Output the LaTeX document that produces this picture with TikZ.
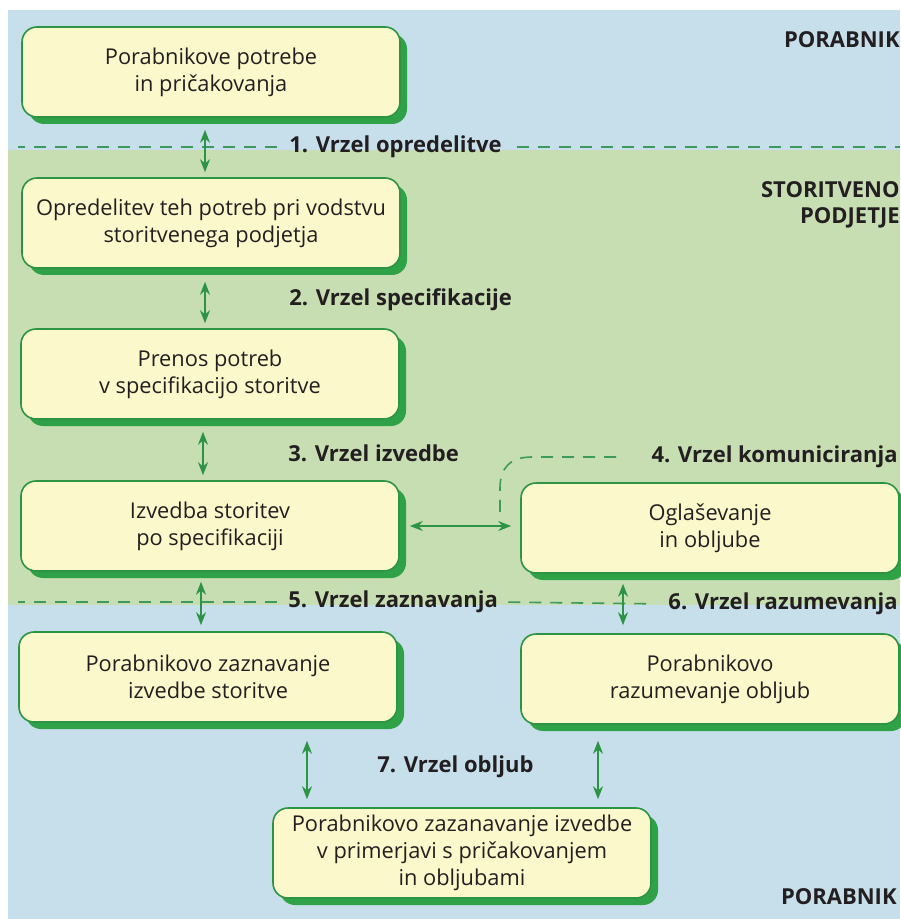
\documentclass[tikz,border=0pt]{standalone}
\usepackage{fontspec}
\setmainfont{Open Sans}
\usetikzlibrary{arrows.meta, shadows}
\definecolor{modra}{HTML}{C6DFEB}
\definecolor{zelena}{HTML}{C7DEB3}
\definecolor{rumena}{HTML}{FBF8CB}
\definecolor{rob}{HTML}{2E9445}
\definecolor{senca}{HTML}{2FA146}
\definecolor{crta}{HTML}{3C9A5C}
\definecolor{crnilo}{HTML}{231F20}
\tikzset{
  okvir/.style={draw=rob, line width=0.8pt, fill=rumena, rounded corners=7.5pt,
    minimum width=189pt, minimum height=45pt, align=center, text=crnilo,
    font=\fontsize{10.9}{13.6}\selectfont,
    drop shadow={shadow xshift=3.5pt, shadow yshift=-3.5pt, fill=senca, opacity=1}},
  vrzel/.style={font=\fontsize{11}{13}\selectfont\bfseries, text=crnilo, inner sep=0pt},
  podrocje/.style={font=\fontsize{11}{13}\selectfont\bfseries, text=crnilo, inner sep=0pt,
    anchor=east, align=right},
  meja/.style={draw=crta, line width=0.8pt, dash pattern=on 6pt off 4.5pt},
  puscica/.style={draw=rob, line width=0.9pt,
    {Stealth[length=6.5pt,width=5pt]}-{Stealth[length=6.5pt,width=5pt]}}
}
\begin{document}
\begin{tikzpicture}[x=0.5pt,y=-0.5pt]
\useasboundingbox (0,0) rectangle (900,919);
\fill[modra] (8,10) rectangle (900,150);
\fill[zelena] (8,150) rectangle (900,605);
\fill[modra] (8,605) rectangle (900,919);
\coordinate (levo) at (18,0);
\coordinate (desno) at (900,0);
\coordinate (osA) at (205,0);
\coordinate (osB) at (203,0);
\coordinate (osC) at (201,0);
\coordinate (osD) at (623,0);
\coordinate (osE) at (307,0);
\coordinate (osF) at (598,0);
\coordinate (k4) at (500,514);

\node[okvir] (pot) at (211,72) {Porabnikove potrebe\\in pričakovanja};
\node[okvir] (opr) at (211,223) {Opredelitev teh potreb pri vodstvu\\storitvenega podjetja};
\node[okvir] (spec) at (210,374) {Prenos potreb\\v specifikacijo storitve};
\node[okvir] (izv) at (210,526) {Izvedba storitev\\po specifikaciji};
\node[okvir] (ogl) at (710,528) {Oglaševanje\\in obljube};
\node[okvir] (zazn) at (208,677) {Porabnikovo zaznavanje\\izvedbe storitve};
\node[okvir] (raz) at (710,679) {Porabnikovo\\razumevanje obljub};
\node[okvir] (prim) at (462,853) {Porabnikovo zazanavanje izvedbe\\v primerjavi s pričakovanjem\\in obljubami};

\node[podrocje] (por1) at (900,40) {PORABNIK};
\node[podrocje] (stor) at (900,205) {STORITVENO\\PODJETJE};
\node[podrocje] (por2) at (897,897) {PORABNIK};

\node[vrzel, anchor=west] (l1) at (289,147) {1. Vrzel opredelitve};
\node[vrzel, anchor=west] (l2) at (289,300) {2. Vrzel specifikacije};
\node[vrzel, anchor=west] (l3) at (288,453) {3. Vrzel izvedbe};
\node[vrzel, anchor=east] (l4) at (898,457) {4. Vrzel komuniciranja};
\node[vrzel, anchor=west] (l5) at (288,602) {5. Vrzel zaznavanja};
\node[vrzel, anchor=east] (l6) at (898,604) {6. Vrzel razumevanja};
\node[vrzel, anchor=west] (l7) at (377,767) {7. Vrzel obljub};

\draw[meja, shorten <=6pt] (l1.west) -- (l1.west -| levo);
\draw[meja, shorten <=7.5pt] (l1.east) -- (l1.east -| desno);
\draw[meja, shorten <=5.5pt] (l5.west) -- (l5.west -| levo);
\draw[meja, shorten <=5pt, shorten >=8.5pt] (l5.east) -- (l6.west);
\draw[meja, shorten <=17.5pt] (l4.west) -- (532,457) .. controls (510,457) and (500,468) .. (500,488) -- (k4);

\draw[puscica, shorten <=6pt, shorten >=2.5pt] (pot.south -| osA) -- (opr.north -| osA);
\draw[puscica, shorten <=6.5pt, shorten >=2.5pt] (opr.south -| osA) -- (spec.north -| osA);
\draw[puscica, shorten <=6pt, shorten >=2.5pt] (spec.south -| osB) -- (izv.north -| osB);
\draw[puscica, shorten <=5pt, shorten >=4.5pt] (izv.east) -- (izv.east -| ogl.west);
\draw[puscica, shorten <=5pt, shorten >=3pt] (izv.south -| osC) -- (zazn.north -| osC);
\draw[puscica, shorten <=5pt, shorten >=4pt] (ogl.south -| osD) -- (raz.north -| osD);
\draw[puscica, shorten <=9pt, shorten >=4pt] (zazn.south -| osE) -- (prim.north -| osE);
\draw[puscica, shorten <=8pt, shorten >=4pt] (raz.south -| osF) -- (prim.north -| osF);
\end{tikzpicture}
\end{document}
